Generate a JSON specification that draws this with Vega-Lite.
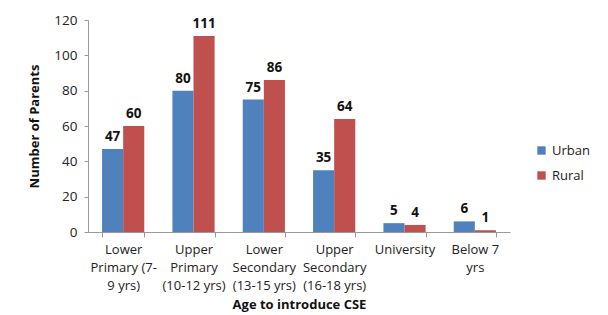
{
  "$schema": "https://vega.github.io/schema/vega-lite/v6.json",
  "width": 422,
  "height": 212,
  "autosize": {"type": "none"},
  "padding": {"left": 88, "top": 20, "right": 98, "bottom": 83},
  "background": "white",
  "config": {
    "view": {"stroke": null},
    "font": "Open Sans",
    "axis": {"labelFont": "Open Sans", "titleFont": "Open Sans", "labelColor": "#222", "titleColor": "#111"}
  },
  "data": {
    "values": [
      {"age": "Lower|Primary (7-|9 yrs)", "area": "Urban", "parents": 47},
      {"age": "Lower|Primary (7-|9 yrs)", "area": "Rural", "parents": 60},
      {"age": "Upper|Primary|(10-12 yrs)", "area": "Urban", "parents": 80},
      {"age": "Upper|Primary|(10-12 yrs)", "area": "Rural", "parents": 111},
      {"age": "Lower|Secondary|(13-15 yrs)", "area": "Urban", "parents": 75},
      {"age": "Lower|Secondary|(13-15 yrs)", "area": "Rural", "parents": 86},
      {"age": "Upper|Secondary|(16-18 yrs)", "area": "Urban", "parents": 35},
      {"age": "Upper|Secondary|(16-18 yrs)", "area": "Rural", "parents": 64},
      {"age": "University", "area": "Urban", "parents": 5},
      {"age": "University", "area": "Rural", "parents": 4},
      {"age": "Below 7|yrs", "area": "Urban", "parents": 6},
      {"age": "Below 7|yrs", "area": "Rural", "parents": 1}
    ]
  },
  "encoding": {
    "x": {
      "field": "age",
      "type": "nominal",
      "sort": null,
      "scale": {"paddingInner": 0.4, "paddingOuter": 0.2},
      "axis": {
        "title": "Age to introduce CSE",
        "titleFontSize": 13,
        "titleFontWeight": "bold",
        "titlePadding": 6,
        "labelAngle": 0,
        "labelFontSize": 13,
        "labelLineHeight": 18,
        "labelPadding": 6,
        "labelExpr": "isValid(datum.value) ? split(datum.value, '|') : ''",
        "tickBand": "extent",
        "tickSize": 5,
        "tickColor": "#999",
        "domainColor": "#999",
        "labelBound": false,
        "labelOverlap": false
      }
    },
    "xOffset": {"field": "area", "type": "nominal", "sort": ["Urban", "Rural"], "scale": {"paddingInner": 0, "paddingOuter": 0}},
    "y": {
      "field": "parents",
      "type": "quantitative",
      "scale": {"domain": [0, 120]},
      "axis": {
        "title": "Number of Parents",
        "titleFontSize": 13,
        "titleFontWeight": "bold",
        "titlePadding": 12,
        "values": [0, 20, 40, 60, 80, 100, 120],
        "labelFontSize": 13.5,
        "labelPadding": 7,
        "tickSize": 4,
        "tickColor": "#999",
        "domainColor": "#999",
        "grid": false
      }
    },
    "color": {
      "field": "area",
      "type": "nominal",
      "sort": ["Urban", "Rural"],
      "scale": {"domain": ["Urban", "Rural"], "range": ["#4F81BD", "#C0504D"]},
      "legend": {
        "title": null,
        "orient": "none",
        "legendX": 447,
        "legendY": 124,
        "symbolType": "square",
        "symbolSize": 70,
        "labelFontSize": 13,
        "labelFont": "Open Sans",
        "labelColor": "#222",
        "rowPadding": 11,
        "symbolStrokeWidth": 0
      }
    }
  },
  "layer": [
    {"mark": {"type": "bar"}},
    {
      "mark": {"type": "text", "dy": -12, "fontSize": 13.5, "fontWeight": "bold", "color": "#111", "font": "Open Sans"},
      "encoding": {"text": {"field": "parents", "type": "quantitative"}, "color": {"value": "#111"}}
    }
  ]
}
